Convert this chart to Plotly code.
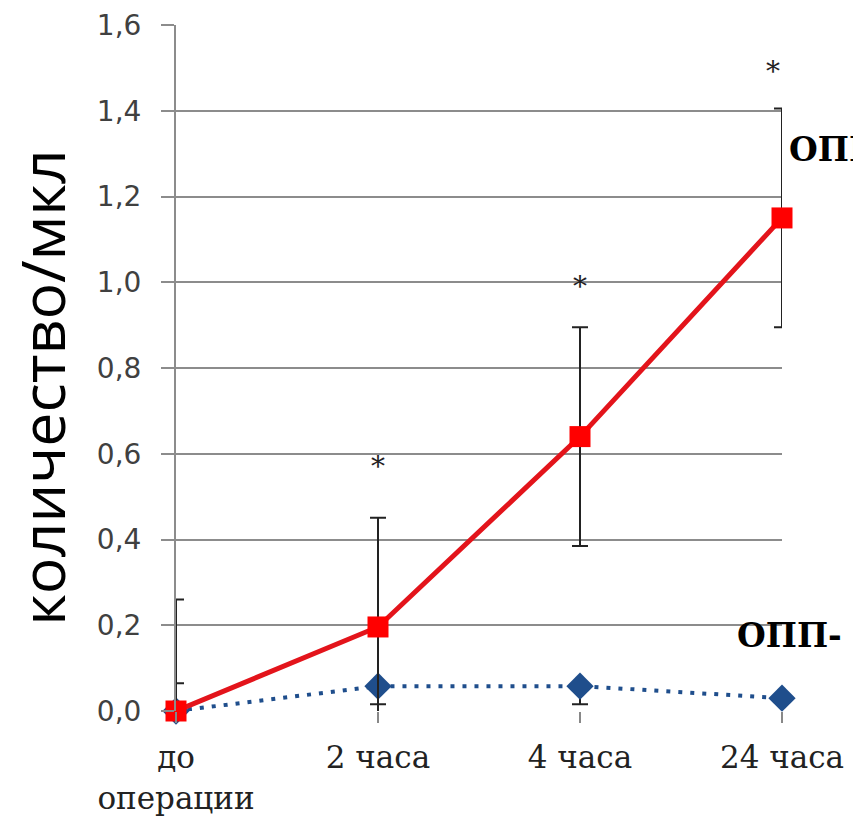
import plotly.graph_objects as go

# Time points after surgery
categories = ["до<br>операции", "2 часа", "4 часа", "24 часа"]

# Group with ОПП: mean count per µl and error
opp_pos = [0.0, 0.196, 0.64, 1.15]
opp_pos_err = [0.26, 0.255, 0.255, 0.255]

# Group without ОПП
opp_neg = [0.0, 0.058, 0.058, 0.03]
opp_neg_err_plus = [0.065, 0.0, 0.0, 0.0]
opp_neg_err_minus = [0.0, 0.042, 0.042, 0.0]

# Significance marks: time point index and height of the asterisk
significant = [1, 2, 3]
star_height = [0.58, 1.0, 1.5]

y_ticks = [0.0, 0.2, 0.4, 0.6, 0.8, 1.0, 1.2, 1.4, 1.6]
y_tick_text = [f"{v:.1f}".replace(".", ",") for v in y_ticks]

xs = list(range(len(categories)))

fig = go.Figure()

fig.add_trace(go.Scatter(
    x=xs, y=opp_neg, mode="lines+markers", cliponaxis=False,
    line=dict(color="#1f4e8c", width=4, dash="4px,8px"),
    marker=dict(symbol="diamond", size=21, color="#1f4e8c"),
    error_y=dict(type="data", symmetric=False, array=opp_neg_err_plus,
                 arrayminus=opp_neg_err_minus, color="#222222",
                 thickness=2, width=8),
    showlegend=False,
))

fig.add_trace(go.Scatter(
    x=xs, y=opp_pos, mode="lines+markers", cliponaxis=False,
    line=dict(color="#e3141b", width=5),
    marker=dict(symbol="square", size=21, color="#ff0000"),
    error_y=dict(type="data", array=opp_pos_err, color="#222222",
                 thickness=2, width=8),
    showlegend=False,
))

# Asterisks above the upper error whiskers
for i, h in zip(significant, star_height):
    fig.add_annotation(
        x=i, y=h, xref="x", yref="y",
        text="*", showarrow=False,
        xshift=-9 if i == len(categories) - 1 else 0, yshift=-4,
        font=dict(family="DejaVu Serif", size=28, color="#222222"),
    )

# Group labels at the right edge
fig.add_annotation(
    x=1.008, y=1.31, xref="paper", yref="y", xanchor="left", yanchor="middle",
    text="<b>ОПП+</b>", showarrow=False,
    font=dict(family="DejaVu Serif", size=33, color="#000000"),
)
fig.add_annotation(
    x=0.922, y=0.175, xref="paper", yref="y", xanchor="left", yanchor="middle",
    text="<b>ОПП-</b>", showarrow=False,
    font=dict(family="DejaVu Serif", size=33, color="#000000"),
)

# Y-axis title
fig.add_annotation(
    x=-0.222, y=0.472, xref="paper", yref="paper", xanchor="center", yanchor="middle",
    text="количество/мкл", textangle=-90, showarrow=False,
    font=dict(family="Open Sans", size=61, color="#000000"),
)

fig.update_layout(
    width=853, height=825,
    margin=dict(l=176, r=71, t=25, b=114, autoexpand=False),
    paper_bgcolor="white", plot_bgcolor="white",
    xaxis=dict(
        range=[0, 3], tickmode="array", tickvals=xs, ticktext=categories,
        showgrid=False, zeroline=False, showline=False, automargin=False,
        ticks="outside", ticklen=11, tickwidth=1.5, tickcolor="#888888",
        ticklabelstandoff=8,
        tickfont=dict(family="DejaVu Serif", size=31, color="#222222"),
    ),
    yaxis=dict(
        range=[0, 1.6], tickmode="array", tickvals=y_ticks, ticktext=y_tick_text,
        showgrid=True, gridcolor="#8c8c8c", gridwidth=2, automargin=False,
        zeroline=False, showline=True, linecolor="#8c8c8c", linewidth=2,
        ticks="outside", ticklen=13, tickwidth=2, tickcolor="#8c8c8c",
        ticklabelstandoff=14,
        tickfont=dict(family="DejaVu Sans", size=28, color="#404040"),
    ),
)

fig.write_html("out.html")
